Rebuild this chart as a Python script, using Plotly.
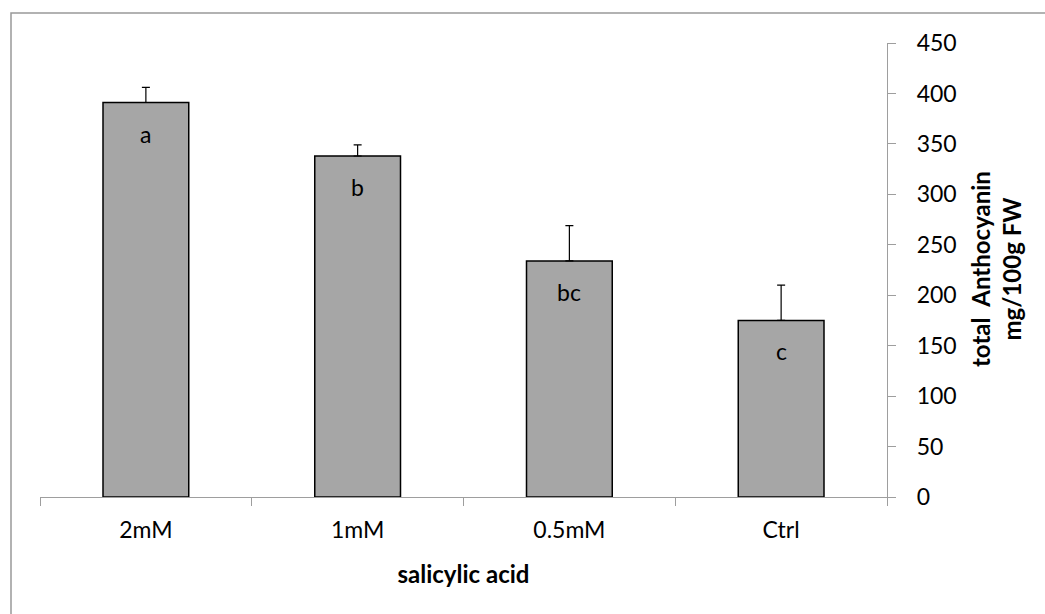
import plotly.graph_objects as go

categories = ["2mM", "1mM", "0.5mM", "Ctrl"]
values = [391, 338, 234, 175]
errors = [15, 11, 35, 35]
letters = ["a", "b", "bc", "c"]
y_ticks = [0, 50, 100, 150, 200, 250, 300, 350, 400, 450]

FONT = "Lato, 'Open Sans', sans-serif"
GRAY = "#a6a6a6"
AXIS = "#9e9e9e"

fig = go.Figure()
fig.add_trace(go.Bar(
    x=categories, y=values,
    marker=dict(color=GRAY, line=dict(color="#000000", width=1.5)),
    error_y=dict(type="data", array=errors, arrayminus=[0] * len(errors), symmetric=False,
                 color="#000000", thickness=1.2, width=4),
    width=0.405,
    showlegend=False,
))

for c, v, l in zip(categories, values, letters):
    fig.add_annotation(x=c, y=v, text=l, showarrow=False, yshift=-31,
                       font=dict(family=FONT, size=23, color="#000000"))

fig.add_annotation(xref="paper", yref="paper", x=(996 - 40) / 847, y=(497 - 269) / 454,
                   xanchor="center", yanchor="middle",
                   text="<b>total  Anthocyanin<br>mg/100g FW</b>", textangle=-90,
                   showarrow=False, font=dict(family=FONT, size=24, color="#000000"))

fig.add_shape(type="rect", xref="paper", yref="paper",
              x0=(11 - 40) / 847, x1=(1060 - 40) / 847,
              y0=(497 - 630) / 454, y1=(497 - 13) / 454,
              line=dict(color="#999999", width=1.5), fillcolor="rgba(0,0,0,0)", layer="below")

fig.update_layout(
    width=1045, height=614,
    margin=dict(l=40, r=158, t=43, b=117),
    paper_bgcolor="white", plot_bgcolor="white",
    font=dict(family=FONT, size=23, color="#000000"),
    xaxis=dict(
        showline=True, linecolor=AXIS, linewidth=1.2,
        ticks="outside", ticklen=8, tickcolor=AXIS, tickson="boundaries",
        showgrid=False, ticklabelstandoff=12,
        title=dict(text="<b>salicylic acid</b>", font=dict(family=FONT, size=24), standoff=24),
    ),
    yaxis=dict(
        side="right", range=[0, 450], tickvals=y_ticks,
        showline=True, linecolor=AXIS, linewidth=1.2,
        ticks="outside", ticklen=8, tickcolor=AXIS,
        showgrid=False, zeroline=False, ticklabelstandoff=16,
    ),
)

fig.write_html("out.html")
